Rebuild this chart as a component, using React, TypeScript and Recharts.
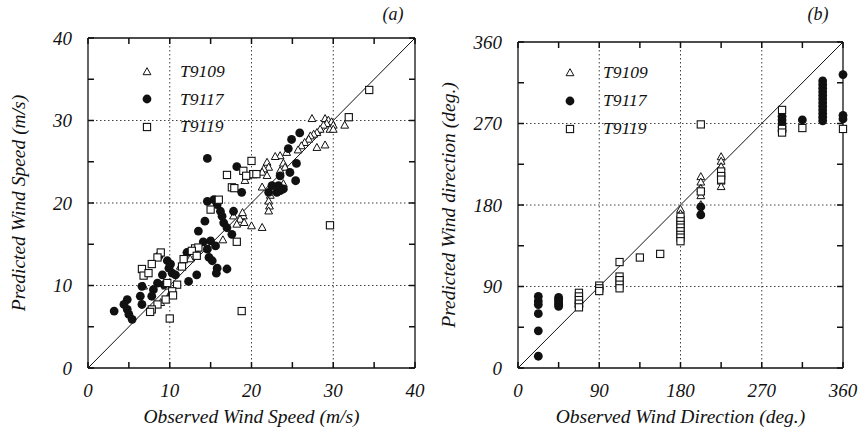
import React from 'react';
import { ScatterChart, Scatter, XAxis, YAxis, CartesianGrid, ReferenceLine, Legend } from 'recharts';

const FONT = '"Liberation Serif", "DejaVu Serif", serif';
const INK = '#111';

const seriesNames = ['T9109', 'T9117', 'T9119'];

const speedTicks = [0, 10, 20, 30, 40];
const speedMinorTicks = [0, 5, 10, 15, 20, 25, 30, 35, 40];
const dirTicks = [0, 90, 180, 270, 360];
const dirMinorTicks = [0, 45, 90, 135, 180, 225, 270, 315, 360];
const speedDiagonal = [0, 40];
const dirDiagonal = [0, 360];

// Panel (a): observed vs predicted wind speed (m/s)
const speedT9109 = [
  [27.4, 30.2], [29.0, 30.2], [29.4, 30.0], [29.8, 29.8], [29.2, 29.6], [30.0, 29.4], [28.8, 29.4],
  [29.6, 28.9], [30.0, 28.9], [28.4, 28.9], [28.0, 28.5], [27.6, 28.3], [27.2, 28.1], [27.0, 27.7],
  [26.5, 27.3], [26.1, 26.9], [25.7, 26.4], [31.4, 29.4], [29.0, 27.0], [28.0, 26.7], [24.3, 26.1],
  [23.5, 25.7], [22.9, 25.6], [21.9, 24.9], [22.1, 24.3], [21.5, 24.1], [23.9, 24.8], [24.1, 24.3],
  [23.5, 23.9], [21.3, 23.7], [21.9, 23.3], [19.4, 23.3], [19.2, 22.7], [21.3, 21.9], [23.9, 22.3],
  [22.3, 20.9], [22.1, 20.2], [22.2, 19.6], [22.1, 19.0], [19.0, 18.4], [18.6, 18.0], [19.1, 17.6],
  [18.2, 17.4], [20.0, 17.2], [21.3, 17.0], [17.8, 18.4], [12.5, 13.2], [13.3, 13.8], [11.3, 12.3],
  [6.8, 9.9], [7.6, 7.1], [10.1, 9.1], [8.9, 7.9], [9.5, 9.9], [18.9, 18.8], [16.5, 15.5],
];
const speedT9117 = [
  [14.6, 25.4], [18.2, 24.4], [18.8, 21.3], [25.9, 28.5], [24.9, 27.7], [24.5, 26.6], [25.5, 24.8],
  [25.4, 22.7], [24.7, 23.7], [23.5, 23.3], [23.3, 22.1], [22.5, 22.1], [22.1, 21.3], [23.1, 21.3],
  [23.9, 21.7], [23.5, 21.5], [14.6, 20.2], [15.4, 20.4], [15.8, 19.8], [16.2, 19.0], [16.4, 18.4],
  [16.6, 17.6], [17.0, 17.0], [17.6, 16.2], [17.8, 19.0], [14.3, 17.8], [13.5, 16.6], [14.1, 15.3],
  [15.0, 15.4], [15.6, 14.8], [14.6, 14.4], [14.8, 13.4], [15.2, 13.0], [15.8, 12.1], [15.7, 11.5],
  [17.0, 12.0], [13.3, 11.3], [12.3, 10.5], [8.7, 13.6], [9.7, 13.0], [9.9, 12.1], [10.3, 11.5],
  [9.1, 11.3], [10.7, 11.3], [8.5, 10.3], [9.3, 10.1], [8.0, 9.5], [6.6, 9.9], [6.4, 8.7], [6.6, 7.7],
  [7.8, 8.7], [4.8, 8.3], [4.4, 7.7], [4.8, 7.1], [5.0, 6.5], [5.4, 5.9], [3.2, 6.9], [10.1, 12.6],
  [12.1, 14.0],
];
const speedT9119 = [
  [34.4, 33.7], [31.9, 30.4], [20.0, 25.1], [17.0, 23.4], [17.6, 21.9], [17.9, 21.8], [19.0, 23.9],
  [20.2, 23.5], [20.6, 23.5], [19.35, 23.3], [15.0, 19.2], [16.0, 20.4], [18.2, 15.3], [29.6, 17.3],
  [18.8, 6.9], [10.0, 6.0], [8.9, 14.0], [8.5, 13.4], [7.8, 12.6], [6.6, 12.0], [6.8, 11.2], [7.4, 11.5],
  [13.1, 14.5], [13.5, 14.6], [12.7, 14.2], [11.7, 13.2], [11.5, 12.3], [13.3, 13.6], [10.9, 10.1],
  [10.3, 9.3], [10.4, 8.8], [9.5, 8.3], [8.5, 7.7], [7.8, 7.1], [7.6, 6.8], [9.7, 10.3],
];

// Panel (b): observed vs predicted wind direction (deg.)
const dirT9109 = [
  [67.5, 80], [67.5, 76], [90, 90], [180, 175], [180, 170], [180, 164], [202.5, 211], [202.5, 205],
  [202.5, 198], [202.5, 190], [202.5, 180], [202.5, 172], [225, 233], [225, 228], [225, 222],
  [225, 214], [225, 206], [225, 200],
];
const dirT9117 = [
  [22.5, 79], [22.5, 74], [22.5, 70], [22.5, 60], [22.5, 41], [22.5, 13], [45, 78], [45, 76], [45, 74],
  [45, 72], [45, 70], [45, 68], [67.5, 72], [67.5, 68], [202.5, 178], [202.5, 169], [292.5, 278],
  [292.5, 274], [292.5, 270], [292.5, 266], [292.5, 262], [315, 274], [337.5, 317], [337.5, 313],
  [337.5, 309], [337.5, 305], [337.5, 301], [337.5, 297], [337.5, 293], [337.5, 289], [337.5, 285],
  [337.5, 281], [337.5, 277], [337.5, 273], [360, 324], [360, 279], [360, 275],
];
const dirT9119 = [
  [67.5, 83], [67.5, 79], [67.5, 75], [67.5, 71], [67.5, 67], [90, 91], [90, 88], [90, 85],
  [112.5, 117], [112.5, 101], [112.5, 97], [112.5, 92], [112.5, 88], [135, 122], [157.5, 126],
  [180, 167], [180, 162], [180, 158], [180, 155], [180, 151], [180, 147], [180, 144], [180, 140],
  [202.5, 269], [202.5, 195], [225, 217], [225, 212], [225, 208], [292.5, 285], [292.5, 264],
  [292.5, 260], [315, 265], [360, 264],
];

const toPoints = (arr: number[][]) => arr.map(([x, y]) => ({ x, y }));

const symbolFor = (i: number, cx: number, cy: number) => {
  if (i === 0)
    return (
      <polygon
        points={`${cx},${cy - 4.3} ${cx - 3.9},${cy + 2.7} ${cx + 3.9},${cy + 2.7}`}
        fill="#fff"
        stroke={INK}
        strokeWidth={1}
      />
    );
  if (i === 1) return <circle cx={cx} cy={cy} r={4.4} fill={INK} />;
  return <rect x={cx - 3.6} y={cy - 3.6} width={7.2} height={7.2} fill="#fff" stroke={INK} strokeWidth={1.1} />;
};

const makeShape = (i: number) => (p: any) => {
  if (p == null || p.cx == null || p.cy == null) return <g />;
  return <g>{symbolFor(i, p.cx, p.cy)}</g>;
};
const shapes = [makeShape(0), makeShape(1), makeShape(2)];

const textStyle: React.CSSProperties = { fontFamily: FONT, fontStyle: 'italic', fill: INK } as any;
const TICK_LEN = 6;
const TICK_W = 1.5;
const LABEL_GAP = 16;

const isMajor = (major: number[], v: any) => major.indexOf(Number(v)) >= 0;

// Tick renderers: draw an inward tick line at the axis and (for major values) the label.
const bottomTick = (major: number[]) => (p: any) => {
  const v = p.payload ? p.payload.value : null;
  const ay = p.y - LABEL_GAP;
  return (
    <g>
      <path d={`M${p.x},${ay}V${ay - TICK_LEN}`} stroke={INK} strokeWidth={TICK_W} fill="none" />
      {isMajor(major, v) ? (
        <text x={p.x} y={p.y} dy="0.71em" textAnchor="middle" fontSize={19} style={textStyle}>
          {String(v)}
        </text>
      ) : null}
    </g>
  );
};
const leftTick = (major: number[]) => (p: any) => {
  const v = p.payload ? p.payload.value : null;
  const ax = p.x + LABEL_GAP;
  return (
    <g>
      <path d={`M${ax},${p.y}H${ax + TICK_LEN}`} stroke={INK} strokeWidth={TICK_W} fill="none" />
      {isMajor(major, v) ? (
        <text x={p.x} y={p.y} dy="0.355em" textAnchor="end" fontSize={19} style={textStyle}>
          {String(v)}
        </text>
      ) : null}
    </g>
  );
};
const topTick = (p: any) => (
  <path d={`M${p.x},${p.y}V${p.y + TICK_LEN}`} stroke={INK} strokeWidth={TICK_W} fill="none" />
);
const rightTick = (p: any) => (
  <path d={`M${p.x},${p.y}H${p.x - TICK_LEN}`} stroke={INK} strokeWidth={TICK_W} fill="none" />
);

const makeLegend = (rowH: number) => () => (
  <div style={{ fontFamily: FONT, fontStyle: 'italic', fontSize: 17.5, color: INK }}>
    {seriesNames.map((n, i) => (
      <div key={n} style={{ display: 'flex', alignItems: 'center', height: rowH }}>
        <svg width={20} height={20} style={{ display: 'block' }}>
          {symbolFor(i, 10, 10)}
        </svg>
        <span style={{ marginLeft: 23, lineHeight: 1 }}>{n}</span>
      </div>
    ))}
  </div>
);

const yTitle = (text: string) => (props: any) => {
  const vb = props.viewBox || { x: 0, y: 0, width: 88, height: 330 };
  const cx = vb.x + 18;
  const cy = vb.y + vb.height / 2;
  return (
    <text
      x={cx}
      y={cy}
      transform={`rotate(-90 ${cx} ${cy})`}
      textAnchor="middle"
      dominantBaseline="central"
      fontSize={19.5}
      style={textStyle}
    >
      {text}
    </text>
  );
};

const xTitle = (text: string) => (props: any) => {
  const vb = props.viewBox || { x: 88, y: 368, width: 327, height: 69 };
  return (
    <text x={vb.x + vb.width / 2} y={vb.y + 55} textAnchor="middle" fontSize={19.5} style={textStyle}>
      {text}
    </text>
  );
};

const panelTag = (text: string, dx: number) => (props: any) => {
  const vb = props.viewBox || { x: 88, width: 327 };
  return (
    <text x={vb.x + vb.width - dx} y={20} textAnchor="middle" fontSize={18} style={textStyle}>
      {text}
    </text>
  );
};

type PanelProps = {
  width: number;
  marginTop: number;
  marginRight: number;
  domain: number[];
  ticks: number[];
  minorTicks: number[];
  diagonal: number[];
  series: number[][][];
  xLabel: string;
  yLabel: string;
  tag: string;
  tagDx: number;
  legendLeft: number;
  legendTop: number;
  legendRow: number;
};

const Panel = (pp: PanelProps) => {
  const d = [pp.domain[0], pp.domain[1]];
  const inner = pp.ticks.slice(1, -1);
  const frameStyle = { stroke: INK, strokeWidth: 1.3 };
  return (
    <ScatterChart
      width={pp.width}
      height={437}
      margin={{ top: pp.marginTop - 1, right: pp.marginRight - 1, bottom: 0, left: 0 }}
    >
      <CartesianGrid
        xAxisId="x"
        yAxisId="y"
        verticalValues={inner}
        horizontalValues={inner}
        stroke="#000"
        strokeOpacity={0.75}
        strokeWidth={1}
        strokeDasharray="1.5 2.5"
      />
      <XAxis
        xAxisId="x"
        dataKey="x"
        type="number"
        domain={d}
        ticks={pp.minorTicks}
        interval={0}
        height={69}
        tickLine={false}
        tickSize={0}
        tickMargin={LABEL_GAP}
        stroke={INK}
        axisLine={frameStyle}
        tick={bottomTick(pp.ticks)}
        label={{ content: xTitle(pp.xLabel) }}
      />
      <XAxis
        xAxisId="xt"
        dataKey="x"
        type="number"
        orientation="top"
        allowDataOverflow
        domain={d}
        ticks={pp.minorTicks}
        interval={0}
        height={1}
        tickLine={false}
        tickSize={0}
        tickMargin={0}
        stroke={INK}
        axisLine={frameStyle}
        tick={topTick}
        label={{ content: panelTag(pp.tag, pp.tagDx) }}
      />
      <YAxis
        yAxisId="y"
        dataKey="y"
        type="number"
        domain={d}
        ticks={pp.minorTicks}
        interval={0}
        width={88}
        tickLine={false}
        tickSize={0}
        tickMargin={LABEL_GAP}
        stroke={INK}
        axisLine={frameStyle}
        tick={leftTick(pp.ticks)}
        label={{ content: yTitle(pp.yLabel) }}
      />
      <YAxis
        yAxisId="yr"
        dataKey="y"
        type="number"
        orientation="right"
        allowDataOverflow
        domain={d}
        ticks={pp.minorTicks}
        interval={0}
        width={1}
        tickLine={false}
        tickSize={0}
        tickMargin={0}
        stroke={INK}
        axisLine={frameStyle}
        tick={rightTick}
      />
      <ReferenceLine
        xAxisId="x"
        yAxisId="y"
        segment={[
          { x: pp.diagonal[0], y: pp.diagonal[0] },
          { x: pp.diagonal[1], y: pp.diagonal[1] },
        ]}
        stroke={INK}
        strokeWidth={1}
      />
      {pp.series.map((s, i) => (
        <Scatter
          key={seriesNames[i]}
          name={seriesNames[i]}
          xAxisId="x"
          yAxisId="y"
          data={toPoints(s)}
          fill={INK}
          shape={shapes[i]}
          isAnimationActive={false}
        />
      ))}
      <Legend
        layout="vertical"
        align="center"
        verticalAlign="middle"
        content={makeLegend(pp.legendRow)}
        wrapperStyle={{ left: pp.legendLeft, top: pp.legendTop, width: 120, height: pp.legendRow * 3 }}
      />
    </ScatterChart>
  );
};

export default function App() {
  return (
    <div style={{ position: 'absolute', left: 0, top: 0, width: 862, height: 437, background: '#fff' }}>
      <div style={{ position: 'absolute', left: 0, top: 0 }}>
        <Panel
          width={430}
          marginTop={38}
          marginRight={15}
          domain={speedDiagonal}
          ticks={speedTicks}
          minorTicks={speedMinorTicks}
          diagonal={speedDiagonal}
          series={[speedT9109, speedT9117, speedT9119]}
          xLabel="Observed Wind Speed (m/s)"
          yLabel="Predicted Wind Speed (m/s)"
          tag="(a)"
          tagDx={22}
          legendLeft={137}
          legendTop={58}
          legendRow={27.5}
        />
      </div>
      <div style={{ position: 'absolute', left: 430, top: 0 }}>
        <Panel
          width={432}
          marginTop={42}
          marginRight={19}
          domain={dirDiagonal}
          ticks={dirTicks}
          minorTicks={dirMinorTicks}
          diagonal={dirDiagonal}
          series={[dirT9109, dirT9117, dirT9119]}
          xLabel="Observed Wind Direction (deg.)"
          yLabel="Predicted Wind direction (deg.)"
          tag="(b)"
          tagDx={25}
          legendLeft={130}
          legendTop={59}
          legendRow={28}
        />
      </div>
    </div>
  );
}
